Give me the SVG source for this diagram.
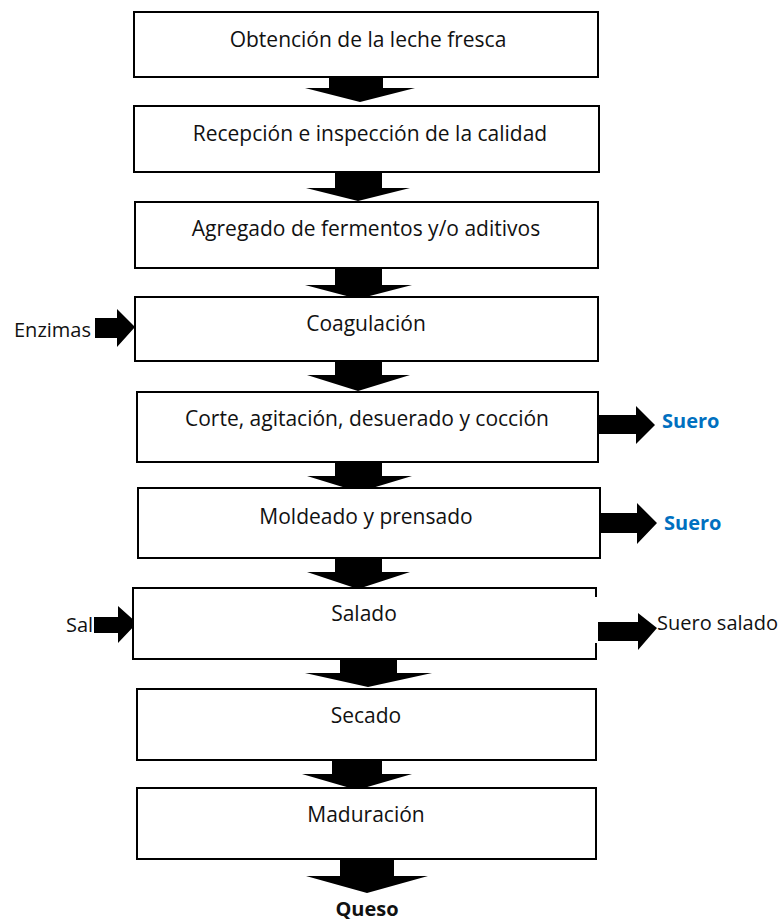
<svg xmlns="http://www.w3.org/2000/svg" width="784" height="924" viewBox="0 0 784 924">
<style>
.box{fill:#fff;stroke:#000;stroke-width:2}
.t{font-family:"Open Sans","Noto Sans","Liberation Sans",sans-serif;font-size:20px;fill:#111}
.n{font-size:21px}
.c{text-anchor:middle}
.b{font-weight:bold}
.blue{fill:#0070C0}
.arr{fill:#000}
</style>
<rect width="784" height="924" fill="#fff"/>
<g id="connectors">
<polygon class="arr" points="329,77 383,77 383,88 415,88 360,102 305,88 329,88"/>
<polygon class="arr" points="335,172 382,172 382,188 410,188 358,201 306,188 335,188"/>
<polygon class="arr" points="335,268 382,268 382,285 412,285 358,299 305,285 335,285"/>
<polygon class="arr" points="335,361 382,361 382,375 410,375 358,391 307,375 335,375"/>
<polygon class="arr" points="335,462 382,462 382,476 412,476 359,492 307,476 335,476"/>
<polygon class="arr" points="335,558 382,558 382,572 410,572 358,589 307,572 335,572"/>
<polygon class="arr" points="340,659 397,659 397,673 432,673 368,687 305,673 340,673"/>
<polygon class="arr" points="332,760 382,760 382,774 412,774 357,790 302,774 332,774"/>
<polygon class="arr" points="340,859 394,859 394,876 428,876 367,893 306,876 340,876"/>
<polygon class="arr" points="95,318 117,318 117,309 135,327 117,347 117,338 95,338"/>
<polygon class="arr" points="599,415 636,415 636,406 655,425 636,444 636,434 599,434"/>
<polygon class="arr" points="601,513 637,513 637,503 657,523 637,544 637,533 601,533"/>
<polygon class="arr" points="94,617 118,617 118,606 137,623 118,643 118,633 94,633"/>
<polygon class="arr" points="598,622 638,622 638,613 657,628 638,650 638,641 598,641"/>
</g>
<g id="n1"><rect class="box" x="134" y="12" width="464" height="65"/><text class="t n c" x="368" y="47">Obtención de la leche fresca</text></g>
<g id="n2"><rect class="box" x="134" y="106" width="465" height="66"/><text class="t n c" x="370" y="141">Recepción e inspección de la calidad</text></g>
<g id="n3"><rect class="box" x="135" y="202" width="463" height="66"/><text class="t n c" x="366" y="236">Agregado de fermentos y/o aditivos</text></g>
<g id="n4"><rect class="box" x="135" y="297" width="463" height="64"/><text class="t n c" x="366" y="331">Coagulación</text></g>
<g id="n5"><rect class="box" x="137" y="392" width="461" height="70"/><text class="t n c" x="367" y="426">Corte, agitación, desuerado y cocción</text></g>
<g id="n6"><rect class="box" x="138" y="488" width="462" height="70"/><text class="t n c" x="366" y="524">Moldeado y prensado</text></g>
<g id="n7"><rect x="133" y="588" width="463" height="71" fill="#fff"/><path d="M596,597 V588 H133 V659 H596 V643" fill="none" stroke="#000" stroke-width="2"/><text class="t n c" x="364" y="621">Salado</text></g>
<g id="n8"><rect class="box" x="137" y="689" width="459" height="71"/><text class="t n c" x="366" y="723">Secado</text></g>
<g id="n9"><rect class="box" x="137" y="788" width="459" height="71"/><text class="t n c" x="366" y="822">Maduración</text></g>
<g id="in-enzimas"><text class="t" x="14" y="337">Enzimas</text></g>
<g id="out-suero1"><text class="t b blue" x="662" y="428">Suero</text></g>
<g id="out-suero2"><text class="t b blue" x="664" y="530">Suero</text></g>
<g id="in-sal"><text class="t" x="66" y="632">Sal</text></g>
<g id="out-suero-salado"><text class="t" x="657" y="630">Suero salado</text></g>
<g id="out-queso"><text class="t c b" x="367" y="916">Queso</text></g>
</svg>
